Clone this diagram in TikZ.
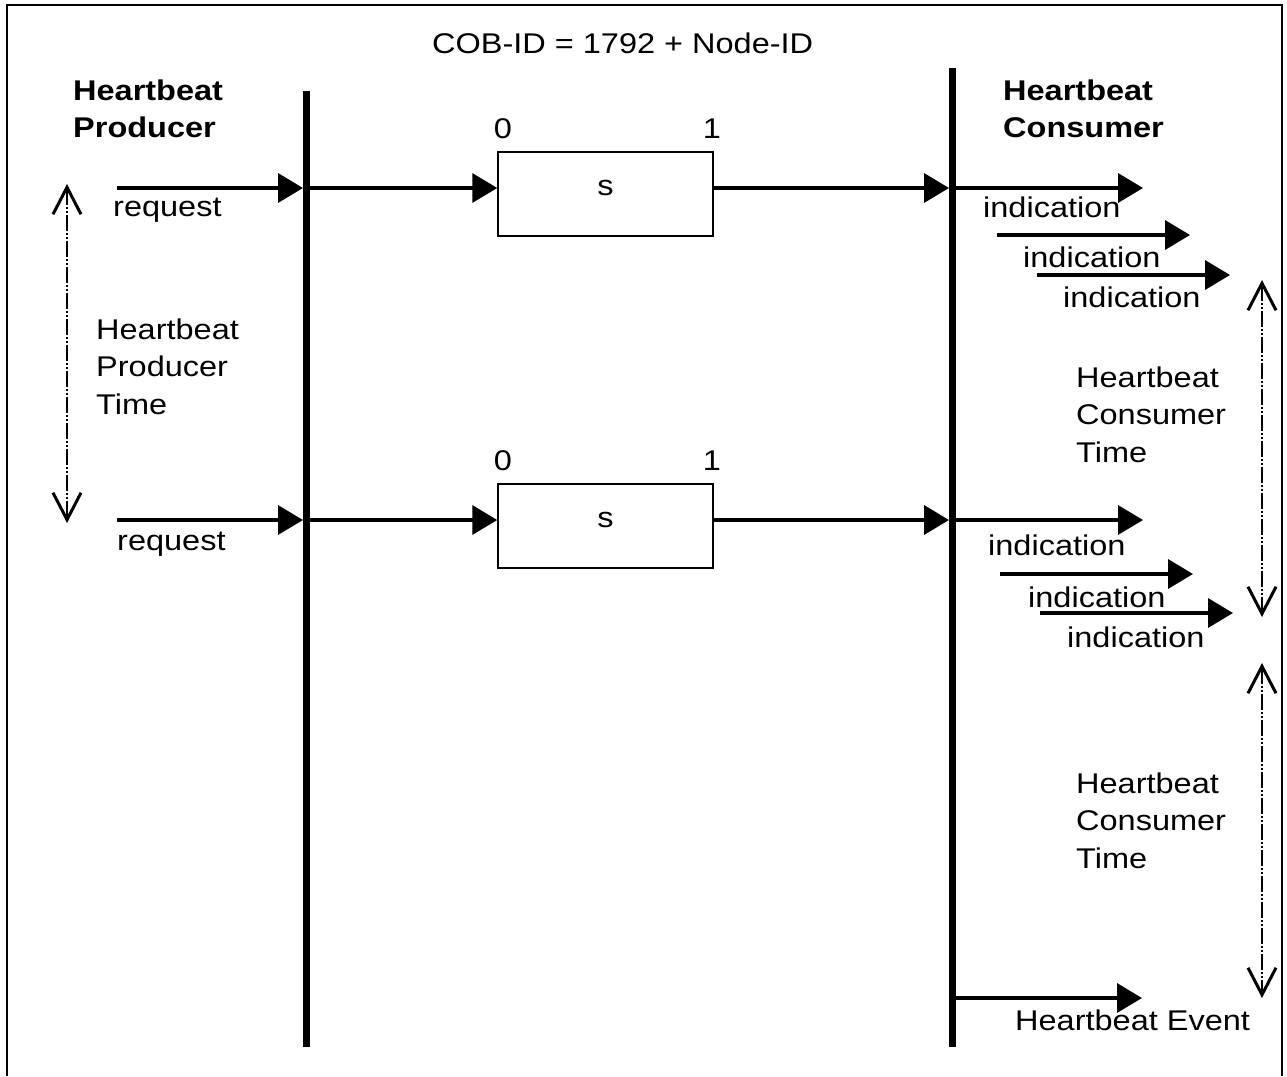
\documentclass[tikz,border=0pt]{standalone}
\usepackage{fontspec}
\setmainfont{Liberation Sans}[FakeStretch=1.14]
\usetikzlibrary{arrows.meta}
\begin{document}
\begin{tikzpicture}[x=1pt,y=-1pt,
  txt/.style={font=\fontsize{28.5}{37.5}\selectfont, inner sep=0pt, anchor=base west},
  txtml/.style={font=\fontsize{28.5}{37.5}\selectfont, inner sep=0pt, anchor=north west, align=left},
  lifeline/.style={line width=7pt},
  msg/.style={line width=3.5pt, -{Triangle[length=25pt,width=29pt]}},
  period/.style={line width=2pt, dash pattern=on 16pt off 2pt on 2pt off 2pt on 2pt off 2pt,
     {Straight Barb[length=27pt,width=28pt,line width=3pt]}-{Straight Barb[length=27pt,width=28pt,line width=3pt]}},
  sbox/.style={draw, line width=1.5pt, minimum width=215pt, minimum height=84pt, inner sep=0pt},
  frame/.style={line width=2pt}]
\useasboundingbox (0,0) rectangle (1287,1076);
\fill[white] (0,0) rectangle (1287,1076);
% frame
\draw[frame] (7,1076) -- (7,5) -- (1282,5) -- (1282,1076);

% title and headers
\node[txt] (title) at (432,53) {COB-ID = 1792 + Node-ID};
\node[txtml] (prod) at (73,79.3) {\bfseries Heartbeat\\\bfseries Producer};
\node[txtml] (cons) at (1003,79.3) {\bfseries Heartbeat\\\bfseries Consumer};

% lifelines
\coordinate (Ptop) at (306,91);
\coordinate (Pbot) at (306,1047);
\coordinate (Ctop) at (952,68);
\coordinate (Cbot) at (952,1047);
\draw[lifeline] (Ptop) -- (Pbot);
\draw[lifeline] (Ctop) -- (Cbot);

% ---------- row 1 ----------
\coordinate (req1) at (117,188);
\coordinate (p1) at (306,188);
\coordinate (c1) at (952,188);
\node[sbox] (box1) at (605.5,194) {};
\node[txt, anchor=center] (s1) at (box1.center |- p1) {s};
\node[txt, anchor=base] (zero1) at (503,138) {0};
\node[txt, anchor=base] (one1) at (712,138) {1};
\node[txt] (reql1) at (113,216) {request};
\draw[msg, shorten >=3pt] (req1) -- (p1);
\draw[msg] (p1) -- (p1 -| box1.west);
\draw[msg, shorten >=3pt] (p1 -| box1.east) -- (c1);

\coordinate (i1ae) at (1143,188);
\coordinate (i1bs) at (997,235);
\coordinate (i1be) at (1190,235);
\coordinate (i1cs) at (1037,275);
\coordinate (i1ce) at (1230,275);
\draw[msg] (c1) -- (i1ae);
\draw[msg] (i1bs) -- (i1be);
\draw[msg] (i1cs) -- (i1ce);
\node[txt] (ind1a) at (983,217) {indication};
\node[txt] (ind1b) at (1023,267) {indication};
\node[txt] (ind1c) at (1063,307) {indication};

% ---------- row 2 ----------
\coordinate (req2) at (117,520);
\coordinate (p2) at (306,520);
\coordinate (c2) at (952,520);
\node[sbox] (box2) at (605.5,526) {};
\node[txt, anchor=center] (s2) at (box2.center |- p2) {s};
\node[txt, anchor=base] (zero2) at (503,470) {0};
\node[txt, anchor=base] (one2) at (712,470) {1};
\node[txt] (reql2) at (117,550) {request};
\draw[msg, shorten >=3pt] (req2) -- (p2);
\draw[msg] (p2) -- (p2 -| box2.west);
\draw[msg, shorten >=3pt] (p2 -| box2.east) -- (c2);

\coordinate (i2ae) at (1143,520);
\coordinate (i2bs) at (1000,574);
\coordinate (i2be) at (1193,574);
\coordinate (i2cs) at (1040,613);
\coordinate (i2ce) at (1233,613);
\draw[msg] (c2) -- (i2ae);
\draw[msg] (i2bs) -- (i2be);
\draw[msg] (i2cs) -- (i2ce);
\node[txt] (ind2a) at (988,555) {indication};
\node[txt] (ind2b) at (1028,607) {indication};
\node[txt] (ind2c) at (1067,647) {indication};

% ---------- heartbeat event ----------
\coordinate (c3) at (952,998);
\coordinate (evend) at (1142,998);
\draw[msg] (c3) -- (evend);
\node[txt] (evlabel) at (1015,1030) {Heartbeat Event};

% ---------- time spans ----------
\coordinate (pt1) at (67,184);
\coordinate (pt2) at (67,523);
\draw[period] (pt1) -- (pt2);
\node[txtml] (ptime) at (96,318.3) {Heartbeat\\Producer\\Time};

\coordinate (ct1a) at (1262,280);
\coordinate (ct1b) at (1262,617);
\draw[period] (ct1a) -- (ct1b);
\node[txtml] (ctime1) at (1076,366.3) {Heartbeat\\Consumer\\Time};

\coordinate (ct2a) at (1262,663);
\coordinate (ct2b) at (1262,998);
\draw[period] (ct2a) -- (ct2b);
\node[txtml] (ctime2) at (1076,772.3) {Heartbeat\\Consumer\\Time};
\end{tikzpicture}
\end{document}
